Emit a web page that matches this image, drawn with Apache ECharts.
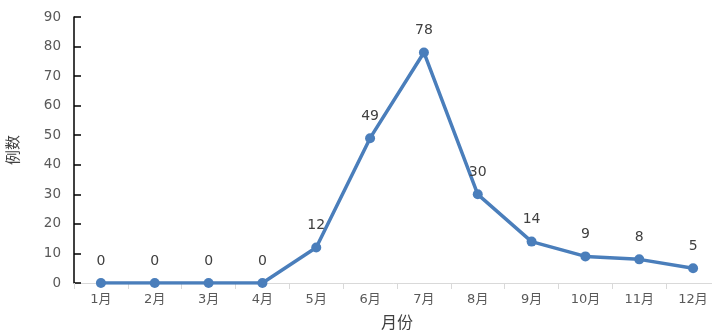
<!DOCTYPE html>
<html><head><meta charset="utf-8">
<script src="https://cdn.jsdelivr.net/npm/echarts@6/dist/echarts.min.js"></script>
<style>html,body{margin:0;padding:0;background:#fff}#c{width:712px;height:335px}</style>
</head><body><div id="c"></div>
<script>
var months = ['1月','2月','3月','4月','5月','6月','7月','8月','9月','10月','11月','12月'];
var cases = [0,0,0,0,12,49,78,30,14,9,8,5];
var yTicks = {min:0, max:90, interval:10};
var chart = echarts.init(document.getElementById('c'));
var font = '"DejaVu Sans","Noto Sans CJK SC",sans-serif';
chart.setOption({
  animation:false,
  grid:{left:74, top:17, height:266, width:646, outerBoundsMode:'none', containLabel:false},
  xAxis:{type:'category', data:months, boundaryGap:true,
    name:'月份', nameLocation:'middle', nameGap:33,
    nameTextStyle:{color:'#404040', fontSize:16, fontFamily:font},
    axisLine:{lineStyle:{color:'#d9d9d9', width:1}},
    axisTick:{show:true, length:6, lineStyle:{color:'#d9d9d9'}},
    axisLabel:{color:'#595959', fontSize:13, fontFamily:font, margin:10}},
  yAxis:{type:'value', min:yTicks.min, max:yTicks.max, interval:yTicks.interval,
    name:'例数', nameLocation:'middle', nameGap:52, nameRotate:90,
    nameTextStyle:{color:'#404040', fontSize:15, fontFamily:font},
    axisLine:{show:true, lineStyle:{color:'#000', width:1.5}},
    axisTick:{show:true, inside:true, length:7, lineStyle:{color:'#000', width:1.5}},
    splitLine:{show:false},
    axisLabel:{color:'#595959', fontSize:13.5, fontFamily:font, margin:13}},
  series:[{type:'line', data:cases, symbol:'circle', symbolSize:10,
    lineStyle:{color:'#4a7ebb', width:3.5},
    itemStyle:{color:'#4a7ebb'},
    label:{show:true, position:'top', distance:10, color:'#404040', fontSize:14, fontFamily:font}}]
});
</script></body></html>
